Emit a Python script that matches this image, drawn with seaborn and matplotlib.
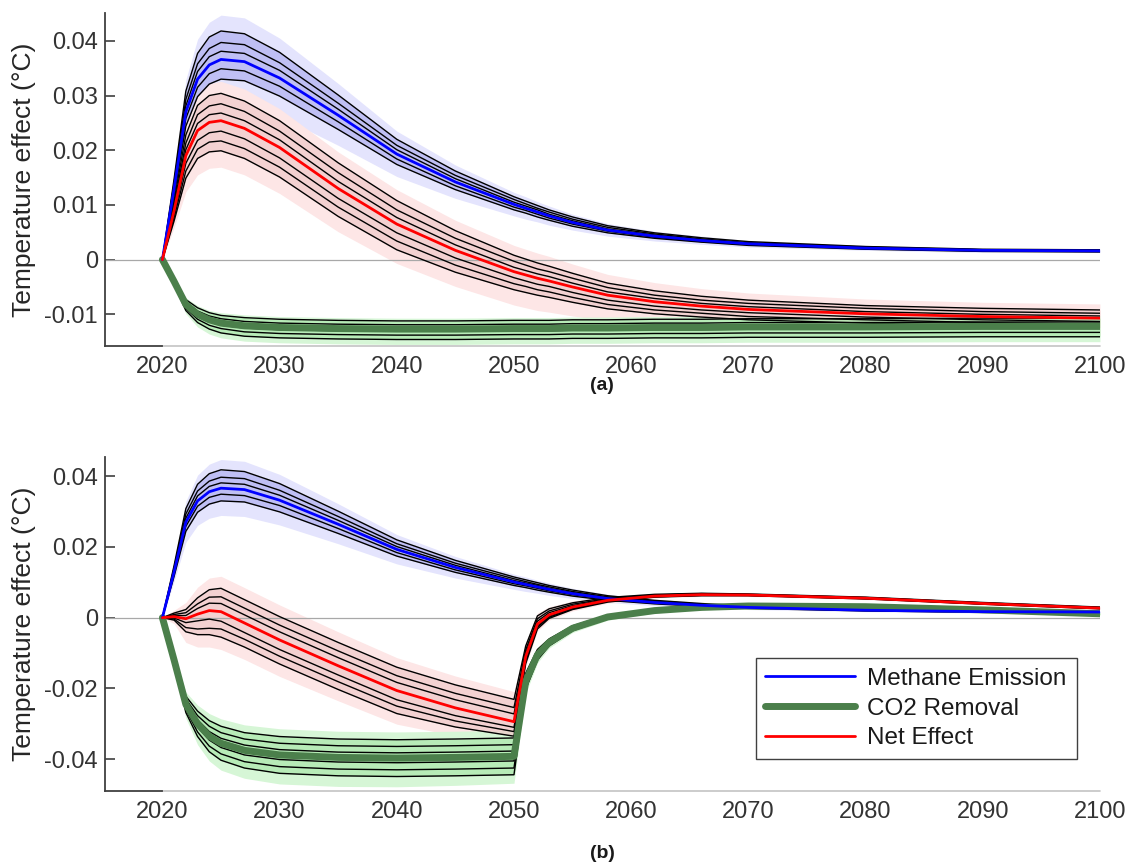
import numpy as np
import pandas as pd
import seaborn as sns
import matplotlib.pyplot as plt
from matplotlib.lines import Line2D

# years of the model output (annual steps near the kinks, coarser later)
years = [2020, 2021, 2022, 2023, 2024, 2025, 2027, 2030, 2035, 2040, 2045, 2050,
         2051, 2052, 2053, 2055, 2058, 2062, 2066, 2070, 2080, 2090, 2100]

# methane emission, same in both panels
methane = [0, 0.0130, 0.0270, 0.0330, 0.0356, 0.0366, 0.0362, 0.0332, 0.0264, 0.0193, 0.0142, 0.0101,
           0.0094, 0.0087, 0.0080, 0.0068, 0.0054, 0.0043, 0.0035, 0.0029, 0.0021, 0.0017, 0.0016]
methane_runs = [
    [0, 0.0148, 0.0308, 0.0377, 0.0407, 0.0418, 0.0413, 0.0379, 0.0301, 0.0220, 0.0162, 0.0115,
     0.0107, 0.0099, 0.0091, 0.0078, 0.0062, 0.0049, 0.0040, 0.0033, 0.0024, 0.0019, 0.0018],
    [0, 0.0141, 0.0293, 0.0358, 0.0386, 0.0397, 0.0393, 0.0360, 0.0286, 0.0209, 0.0154, 0.0110,
     0.0102, 0.0094, 0.0087, 0.0074, 0.0059, 0.0047, 0.0038, 0.0031, 0.0023, 0.0018, 0.0017],
    [0, 0.0135, 0.0281, 0.0344, 0.0371, 0.0381, 0.0377, 0.0346, 0.0275, 0.0201, 0.0148, 0.0105,
     0.0098, 0.0091, 0.0083, 0.0071, 0.0056, 0.0045, 0.0036, 0.0030, 0.0022, 0.0018, 0.0017],
    [0, 0.0124, 0.0258, 0.0315, 0.0340, 0.0349, 0.0345, 0.0317, 0.0252, 0.0184, 0.0135, 0.0096,
     0.0090, 0.0083, 0.0076, 0.0065, 0.0052, 0.0041, 0.0033, 0.0028, 0.0020, 0.0016, 0.0015],
    [0, 0.0117, 0.0244, 0.0298, 0.0321, 0.0330, 0.0327, 0.0299, 0.0238, 0.0174, 0.0128, 0.0091,
     0.0085, 0.0078, 0.0072, 0.0061, 0.0049, 0.0039, 0.0032, 0.0026, 0.0019, 0.0015, 0.0014],
]
methane_hi = [0, 0.0159, 0.0329, 0.0403, 0.0434, 0.0447, 0.0442, 0.0405, 0.0322, 0.0235, 0.0173, 0.0123,
              0.0115, 0.0106, 0.0098, 0.0083, 0.0066, 0.0052, 0.0043, 0.0035, 0.0026, 0.0021, 0.0020]
methane_lo = [0, 0.0103, 0.0213, 0.0261, 0.0281, 0.0289, 0.0286, 0.0262, 0.0209, 0.0152, 0.0112, 0.0080,
              0.0074, 0.0069, 0.0063, 0.0054, 0.0043, 0.0034, 0.0028, 0.0023, 0.0017, 0.0013, 0.0013]

# (a) CO2 removal
co2_a = [0, -0.0040, -0.0082, -0.0100, -0.0110, -0.0116, -0.0121, -0.0124, -0.0126, -0.0127, -0.0127, -0.0126,
         -0.0126, -0.0126, -0.0126, -0.0125, -0.0125, -0.0124, -0.0124, -0.0123, -0.0123, -0.0122, -0.0122]
co2_a_runs = [
    [0, -0.0036, -0.0073, -0.0088, -0.0097, -0.0102, -0.0106, -0.0109, -0.0111, -0.0112, -0.0112, -0.0111,
     -0.0111, -0.0111, -0.0111, -0.0110, -0.0110, -0.0109, -0.0109, -0.0108, -0.0108, -0.0107, -0.0107],
    [0, -0.0038, -0.0077, -0.0094, -0.0103, -0.0108, -0.0113, -0.0116, -0.0118, -0.0119, -0.0119, -0.0118,
     -0.0118, -0.0118, -0.0118, -0.0117, -0.0117, -0.0116, -0.0116, -0.0115, -0.0115, -0.0114, -0.0114],
    [0, -0.0041, -0.0084, -0.0103, -0.0114, -0.0120, -0.0125, -0.0128, -0.0130, -0.0131, -0.0131, -0.0130,
     -0.0130, -0.0130, -0.0130, -0.0129, -0.0129, -0.0128, -0.0128, -0.0127, -0.0127, -0.0126, -0.0126],
    [0, -0.0043, -0.0089, -0.0109, -0.0120, -0.0126, -0.0132, -0.0135, -0.0137, -0.0138, -0.0138, -0.0137,
     -0.0137, -0.0137, -0.0137, -0.0136, -0.0136, -0.0135, -0.0135, -0.0134, -0.0134, -0.0133, -0.0133],
    [0, -0.0046, -0.0093, -0.0115, -0.0127, -0.0134, -0.0140, -0.0143, -0.0145, -0.0146, -0.0146, -0.0145,
     -0.0145, -0.0145, -0.0145, -0.0144, -0.0144, -0.0143, -0.0143, -0.0142, -0.0142, -0.0141, -0.0141],
]
co2_a_hi = [0, -0.0034, -0.0070, -0.0084, -0.0093, -0.0097, -0.0101, -0.0104, -0.0106, -0.0107, -0.0107, -0.0106,
            -0.0106, -0.0106, -0.0106, -0.0105, -0.0105, -0.0104, -0.0104, -0.0103, -0.0103, -0.0102, -0.0102]
co2_a_lo = [0, -0.0049, -0.0099, -0.0123, -0.0136, -0.0143, -0.0149, -0.0152, -0.0154, -0.0155, -0.0155, -0.0154,
            -0.0154, -0.0154, -0.0154, -0.0153, -0.0153, -0.0152, -0.0152, -0.0151, -0.0151, -0.0150, -0.0150]

# (a) net effect
net_a = [0, 0.0090, 0.0190, 0.0236, 0.0251, 0.0254, 0.0240, 0.0205, 0.0130, 0.0065, 0.0017, -0.0022,
         -0.0028, -0.0034, -0.0039, -0.0050, -0.0065, -0.0077, -0.0085, -0.0091, -0.0099, -0.0104, -0.0107]
net_a_runs = [
    [0, 0.0108, 0.0228, 0.0282, 0.0300, 0.0304, 0.0290, 0.0254, 0.0177, 0.0108, 0.0053, 0.0008,
     0.0001, -0.0006, -0.0012, -0.0025, -0.0043, -0.0057, -0.0067, -0.0074, -0.0084, -0.0089, -0.0092],
    [0, 0.0101, 0.0213, 0.0265, 0.0281, 0.0285, 0.0271, 0.0235, 0.0159, 0.0091, 0.0039, -0.0003,
     -0.0010, -0.0017, -0.0022, -0.0034, -0.0051, -0.0065, -0.0074, -0.0080, -0.0089, -0.0095, -0.0098],
    [0, 0.0095, 0.0201, 0.0249, 0.0265, 0.0268, 0.0254, 0.0219, 0.0143, 0.0077, 0.0027, -0.0014,
     -0.0020, -0.0026, -0.0031, -0.0043, -0.0059, -0.0071, -0.0080, -0.0086, -0.0095, -0.0100, -0.0103],
    [0, 0.0083, 0.0176, 0.0218, 0.0232, 0.0235, 0.0221, 0.0186, 0.0112, 0.0049, 0.0003, -0.0033,
     -0.0039, -0.0045, -0.0049, -0.0060, -0.0074, -0.0085, -0.0092, -0.0097, -0.0105, -0.0110, -0.0113],
    [0, 0.0077, 0.0162, 0.0202, 0.0215, 0.0217, 0.0203, 0.0169, 0.0096, 0.0034, -0.0010, -0.0044,
     -0.0049, -0.0055, -0.0059, -0.0069, -0.0082, -0.0092, -0.0098, -0.0104, -0.0110, -0.0115, -0.0118],
    [0, 0.0071, 0.0149, 0.0185, 0.0197, 0.0199, 0.0185, 0.0151, 0.0079, 0.0018, -0.0023, -0.0055,
     -0.0060, -0.0065, -0.0069, -0.0078, -0.0090, -0.0099, -0.0105, -0.0110, -0.0116, -0.0121, -0.0124],
]
net_a_hi = [0, 0.0118, 0.0248, 0.0304, 0.0322, 0.0326, 0.0312, 0.0276, 0.0197, 0.0128, 0.0072, 0.0026,
            0.0019, 0.0012, 0.0006, -0.0008, -0.0027, -0.0042, -0.0053, -0.0061, -0.0072, -0.0078, -0.0081]
net_a_lo = [0, 0.0059, 0.0124, 0.0155, 0.0167, 0.0169, 0.0155, 0.0121, 0.0051, -0.0007, -0.0049, -0.0083,
            -0.0088, -0.0093, -0.0096, -0.0103, -0.0112, -0.0119, -0.0123, -0.0127, -0.0132, -0.0136, -0.0139]

# (b) CO2 removal, stopped after 2050
co2_b = [0, -0.0120, -0.0245, -0.0300, -0.0335, -0.0355, -0.0375, -0.0388, -0.0395, -0.0397, -0.0395, -0.0392,
         -0.0180, -0.0105, -0.0070, -0.0030, 0.0002, 0.0020, 0.0029, 0.0033, 0.0031, 0.0022, 0.0011]
co2_b_runs = [
    [0, -0.0110, -0.0222, -0.0264, -0.0291, -0.0307, -0.0325, -0.0336, -0.0343, -0.0345, -0.0343, -0.0340,
     -0.0157, -0.0090, -0.0060, -0.0023, 0.0007, 0.0024, 0.0032, 0.0035, 0.0033, 0.0024, 0.0013],
    [0, -0.0113, -0.0230, -0.0277, -0.0307, -0.0325, -0.0343, -0.0355, -0.0362, -0.0364, -0.0362, -0.0359,
     -0.0165, -0.0096, -0.0063, -0.0025, 0.0005, 0.0022, 0.0031, 0.0034, 0.0032, 0.0023, 0.0012],
    [0, -0.0117, -0.0238, -0.0289, -0.0322, -0.0341, -0.0360, -0.0373, -0.0380, -0.0382, -0.0380, -0.0377,
     -0.0173, -0.0101, -0.0067, -0.0028, 0.0004, 0.0021, 0.0030, 0.0034, 0.0031, 0.0022, 0.0011],
    [0, -0.0123, -0.0251, -0.0309, -0.0346, -0.0367, -0.0388, -0.0401, -0.0408, -0.0410, -0.0408, -0.0405,
     -0.0186, -0.0109, -0.0073, -0.0032, 0.0001, 0.0019, 0.0028, 0.0032, 0.0031, 0.0022, 0.0011],
    [0, -0.0127, -0.0260, -0.0323, -0.0363, -0.0385, -0.0407, -0.0421, -0.0428, -0.0430, -0.0428, -0.0425,
     -0.0195, -0.0114, -0.0077, -0.0035, -0.0001, 0.0018, 0.0027, 0.0032, 0.0030, 0.0021, 0.0010],
    [0, -0.0130, -0.0268, -0.0336, -0.0379, -0.0403, -0.0425, -0.0440, -0.0447, -0.0449, -0.0447, -0.0444,
     -0.0203, -0.0120, -0.0080, -0.0037, -0.0003, 0.0016, 0.0026, 0.0031, 0.0029, 0.0020, 0.0009],
]
co2_b_hi = [0, -0.0105, -0.0210, -0.0247, -0.0271, -0.0286, -0.0303, -0.0314, -0.0321, -0.0323, -0.0321, -0.0318,
            -0.0147, -0.0084, -0.0055, -0.0019, 0.0010, 0.0026, 0.0034, 0.0037, 0.0035, 0.0026, 0.0015]
co2_b_lo = [0, -0.0137, -0.0284, -0.0359, -0.0405, -0.0431, -0.0454, -0.0470, -0.0477, -0.0478, -0.0474, -0.0468,
            -0.0215, -0.0128, -0.0086, -0.0042, -0.0007, 0.0013, 0.0024, 0.0029, 0.0027, 0.0018, 0.0007]

# (b) net effect
net_b = [0, 0.0003, -0.0003, 0.0010, 0.0020, 0.0017, -0.0015, -0.0063, -0.0136, -0.0206, -0.0255, -0.0294,
         -0.0110, -0.0018, 0.0008, 0.0030, 0.0049, 0.0061, 0.0065, 0.0064, 0.0055, 0.0040, 0.0027]
net_b_runs = [
    [0, 0.0013, 0.0023, 0.0056, 0.0079, 0.0083, 0.0051, 0.0003, -0.0070, -0.0140, -0.0190, -0.0231,
     -0.0080, 0.0005, 0.0025, 0.0042, 0.0057, 0.0066, 0.0069, 0.0067, 0.0058, 0.0043, 0.0030],
    [0, 0.0009, 0.0014, 0.0039, 0.0058, 0.0059, 0.0027, -0.0021, -0.0094, -0.0164, -0.0214, -0.0254,
     -0.0091, -0.0003, 0.0019, 0.0038, 0.0054, 0.0064, 0.0068, 0.0066, 0.0057, 0.0042, 0.0029],
    [0, 0.0006, 0.0006, 0.0026, 0.0041, 0.0040, 0.0008, -0.0040, -0.0113, -0.0183, -0.0232, -0.0272,
     -0.0100, -0.0010, 0.0014, 0.0034, 0.0052, 0.0063, 0.0066, 0.0065, 0.0056, 0.0041, 0.0028],
    [0, -0.0001, -0.0014, -0.0009, -0.0004, -0.0010, -0.0042, -0.0090, -0.0162, -0.0232, -0.0277, -0.0310,
     -0.0118, -0.0023, 0.0004, 0.0027, 0.0047, 0.0060, 0.0064, 0.0063, 0.0054, 0.0039, 0.0026],
    [0, -0.0004, -0.0028, -0.0032, -0.0030, -0.0032, -0.0061, -0.0109, -0.0181, -0.0250, -0.0292, -0.0322,
     -0.0124, -0.0027, 0.0001, 0.0025, 0.0046, 0.0059, 0.0063, 0.0063, 0.0054, 0.0039, 0.0026],
    [0, -0.0007, -0.0040, -0.0048, -0.0048, -0.0055, -0.0083, -0.0131, -0.0203, -0.0271, -0.0309, -0.0335,
     -0.0130, -0.0032, -0.0002, 0.0023, 0.0044, 0.0058, 0.0062, 0.0062, 0.0053, 0.0038, 0.0025],
]
net_b_hi = [0, 0.0021, 0.0043, 0.0086, 0.0112, 0.0117, 0.0085, 0.0036, -0.0040, -0.0113, -0.0165, -0.0209,
            -0.0070, 0.0013, 0.0031, 0.0047, 0.0061, 0.0069, 0.0071, 0.0069, 0.0060, 0.0045, 0.0032]
net_b_lo = [0, -0.0017, -0.0070, -0.0083, -0.0083, -0.0090, -0.0118, -0.0166, -0.0235, -0.0301, -0.0334, -0.0350,
            -0.0138, -0.0038, -0.0007, 0.0019, 0.0041, 0.0056, 0.0060, 0.0060, 0.0051, 0.0036, 0.0023]

yticks_a = [-0.01, 0, 0.01, 0.02, 0.03, 0.04]
ylabels_a = ['-0.01', '0', '0.01', '0.02', '0.03', '0.04']
yticks_b = [-0.04, -0.02, 0, 0.02, 0.04]
ylabels_b = ['-0.04', '-0.02', '0', '0.02', '0.04']
xticks = [2020, 2030, 2040, 2050, 2060, 2070, 2080, 2090, 2100]
legend_labels = ['Methane Emission', 'CO2 Removal', 'Net Effect']

sns.set_theme(style='white')
plt.rcParams['font.family'] = ['Liberation Sans', 'DejaVu Sans']
plt.rcParams['axes.unicode_minus'] = False

C_BLUE, C_GREEN, C_RED = '#0000ff', '#4b7f4b', '#ff0000'
styles = {
    'blue': dict(line=C_BLUE, lw=2.0, light='#e4e4fd', mid='#b3b3f1'),
    'green': dict(line=C_GREEN, lw=5.0, light='#d6f6d6', mid='#ade8ad'),
    'red': dict(line=C_RED, lw=2.0, light='#fde6e6', mid='#f0caca'),
}
X0, X1 = 2015.1, 2100


def runs_frame(runs):
    rows = []
    for k, r in enumerate(runs):
        for yr, v in zip(years, r):
            rows.append((k, yr, v))
    return pd.DataFrame(rows, columns=['run', 'year', 'value'])


def panel(ax, groups, yticks, ylabels, ylim):
    # light uncertainty band, then band spanned by the runs
    for name, center, runs, hi, lo in groups:
        ax.fill_between(years, lo, hi, color=styles[name]['light'], lw=0, zorder=1)
    for name, center, runs, hi, lo in groups:
        arr = np.array(runs)
        ax.fill_between(years, arr.min(axis=0), arr.max(axis=0), color=styles[name]['mid'],
                        alpha=0.75, lw=0, zorder=1.5)
    ax.axhline(0, color='#a8a8a8', lw=0.9, zorder=2)
    for name, center, runs, hi, lo in groups:
        sns.lineplot(data=runs_frame(runs), x='year', y='value', units='run', estimator=None,
                     color='black', lw=1.0, ax=ax, legend=False, zorder=3)
    for name in ['green', 'blue', 'red']:
        for g in groups:
            if g[0] == name:
                st = styles[name]
                sns.lineplot(x=years, y=g[1], color=st['line'], lw=st['lw'], ax=ax, zorder=4)

    ax.set_xlim(X0, X1)
    ax.set_ylim(*ylim)
    ax.set_yticks(yticks)
    ax.set_yticklabels(ylabels)
    ax.set_xticks(xticks)
    ax.set_xticklabels([str(x) for x in xticks])
    ax.set_xticks([2020], minor=True)
    ax.set_xlabel('')
    ax.set_ylabel('Temperature effect (\u00b0C)', fontsize=19, color='#262626', labelpad=6)
    for s in ['top', 'right']:
        ax.spines[s].set_visible(False)
    for s in ['left', 'bottom']:
        ax.spines[s].set_color('#404040')
        ax.spines[s].set_linewidth(1.3)
    ax.spines['bottom'].set_bounds(X0, 2020)
    ax.axhline(ylim[0], xmin=(2020 - X0) / (X1 - X0), xmax=1, color='#c4c4c4', lw=1.2,
               clip_on=False, zorder=0.5)
    ax.tick_params(axis='y', direction='in', length=7.5, width=1.2, color='#404040',
                   labelsize=17, labelcolor='#333333', pad=5, left=True)
    ax.tick_params(axis='x', which='major', length=0, labelsize=17, labelcolor='#333333', pad=7)
    ax.tick_params(axis='x', which='minor', direction='in', length=4.5, width=1.2,
                   color='#404040', bottom=True)
    ax.patch.set_alpha(0)


fig = plt.figure(figsize=(11.3, 8.63), dpi=100)
ax_a = fig.add_axes([0.0929, 0.599, 0.8805, 0.386])
ax_b = fig.add_axes([0.0929, 0.0834, 0.8805, 0.387])

panel(ax_a, [('blue', methane, methane_runs, methane_hi, methane_lo),
             ('red', net_a, net_a_runs, net_a_hi, net_a_lo),
             ('green', co2_a, co2_a_runs, co2_a_hi, co2_a_lo)],
      yticks_a, ylabels_a, (-0.0158, 0.0451))
panel(ax_b, [('blue', methane, methane_runs, methane_hi, methane_lo),
             ('red', net_b, net_b_runs, net_b_hi, net_b_lo),
             ('green', co2_b, co2_b_runs, co2_b_hi, co2_b_lo)],
      yticks_b, ylabels_b, (-0.049, 0.0454))

handles = [Line2D([], [], color=C_BLUE, lw=2.0),
           Line2D([], [], color=C_GREEN, lw=5.0),
           Line2D([], [], color=C_RED, lw=2.0)]
leg = ax_b.legend(handles, legend_labels, loc='upper left', bbox_to_anchor=(0.654, 0.398),
                  borderaxespad=0, fontsize=17.5, frameon=True, fancybox=False, framealpha=1,
                  edgecolor='#404040', handlelength=3.7, handletextpad=0.5, labelspacing=0.32,
                  borderpad=0.4)
leg.get_frame().set_linewidth(1.0)
for t in leg.get_texts():
    t.set_color('#1a1a1a')

fig.text(0.533, 1 - 385 / 863, '(a)', ha='center', va='center', fontsize=14, fontweight='bold', color='#1a1a1a')
fig.text(0.533, 1 - 853 / 863, '(b)', ha='center', va='center', fontsize=14, fontweight='bold', color='#1a1a1a')

fig.savefig('out.png', dpi=100, facecolor='white')
